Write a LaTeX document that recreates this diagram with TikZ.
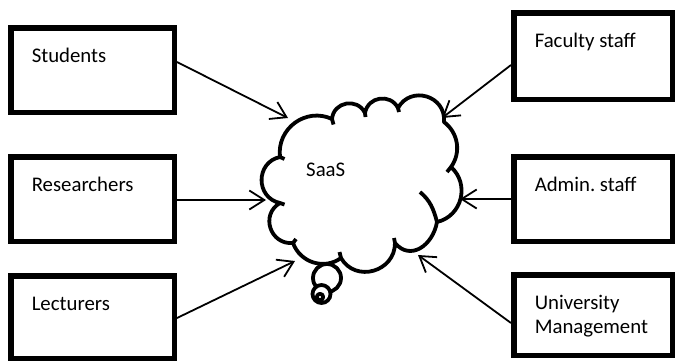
\documentclass[tikz,border=0pt]{standalone}
\usepackage{fontspec}
\setmainfont{Carlito}
\usetikzlibrary{arrows.meta}
\frenchspacing
\begin{document}
\begin{tikzpicture}[x=1pt,y=-1pt,
  box/.style={draw, line width=5.5pt, rectangle, anchor=north west,
    inner xsep=21pt, inner ysep=0pt, align=flush left, text height=34.75pt,
    font=\fontsize{20.8}{24}\selectfont\frenchspacing},
  arr/.style={line width=1.8pt, -{Straight Barb[length=15pt,width=19pt]}},
  cloudline/.style={line width=3.8pt, line join=round},
  lbl/.style={font=\fontsize{20.8}{24}\selectfont, inner sep=0pt, anchor=base west}
]
\fill[white] (0,0) rectangle (675,362);
\useasboundingbox (0,0) rectangle (675,362);

% boxes
\node[box, text width=121.5pt, text depth=49.75pt] (stu) at (8,25) {Students};
\node[box, text width=121.5pt, text depth=49.75pt] (res) at (8,154) {Researchers};
\node[box, text width=121.5pt, text depth=47.75pt] (lec) at (8,273) {Lecturers};
\node[box, text width=116.5pt, text depth=51.75pt] (fac) at (511,10) {Faculty staff};
\node[box, text width=116.5pt, text depth=49.75pt] (adm) at (511,154) {Admin.\ staff};
\node[box, text width=116.5pt, text depth=45.75pt] (uni) at (511,272) {University\\Management};

% cloud with tail
\begin{scope}[cloudline]
\draw[fill=white] (327,278) circle[radius=14pt];
\draw[fill=white] (321.5,294) circle[radius=9pt];
\draw[fill=white] (320,297) circle[radius=3.2pt];
\draw[fill=white] (280,157)
  to[out=97,in=155,looseness=1.14] (332,119)
  to[out=85,in=116,looseness=1.33] (365,113)
  to[out=80,in=117,looseness=1.29] (398,108)
  to[out=61,in=85,looseness=1.4] (444,122)
  to[out=-37,in=54,looseness=1.0] (451,167)
  to[out=-42,in=13,looseness=1.16] (437,222)
  to[out=-100,in=-50,looseness=1.3] (395,243)
  to[out=-90,in=-60,looseness=1.32] (341,258)
  to[out=-144,in=-70,looseness=1.06] (293,243)
  to[out=185,in=-150,looseness=1.4] (280,203)
  to[out=168,in=-168,looseness=1.4] (280,157) -- cycle;
\draw (280,157) -- (284.5,159);
\draw (332,119) -- (333.5,124.5);
\draw (365,113) -- (365.5,117);
\draw (398,108) -- (399,112);
\draw (451,167) -- (447,172);
\draw (420,192) to[out=-40,in=105] (437,222);
\draw (395,243) -- (394,238);
\draw (341,258) -- (339.5,252);
\draw (293,243) -- (296,239);
\draw (280,203) -- (284.5,204.5);
\end{scope}
\node[lbl] (saas) at (306,176.5) {SaaS};

% arrow tips on the cloud
\coordinate (tS) at (288,118);
\coordinate (tR) at (266,200);
\coordinate (tL) at (295,261);
\coordinate (tF) at (442,118);
\coordinate (tA) at (460,199);
\coordinate (tU) at (418,255);

\draw[arr] (stu.east |- 0,62) -- (tS);
\draw[arr] (res.east |- 0,200) -- (tR);
\draw[arr] (lec.east |- 0,318) -- (tL);
\draw[arr] (fac.west |- 0,65) -- (tF);
\draw[arr] (adm.west |- 0,199) -- (tA);
\draw[arr] (uni.west |- 0,323) -- (tU);
\end{tikzpicture}
\end{document}
